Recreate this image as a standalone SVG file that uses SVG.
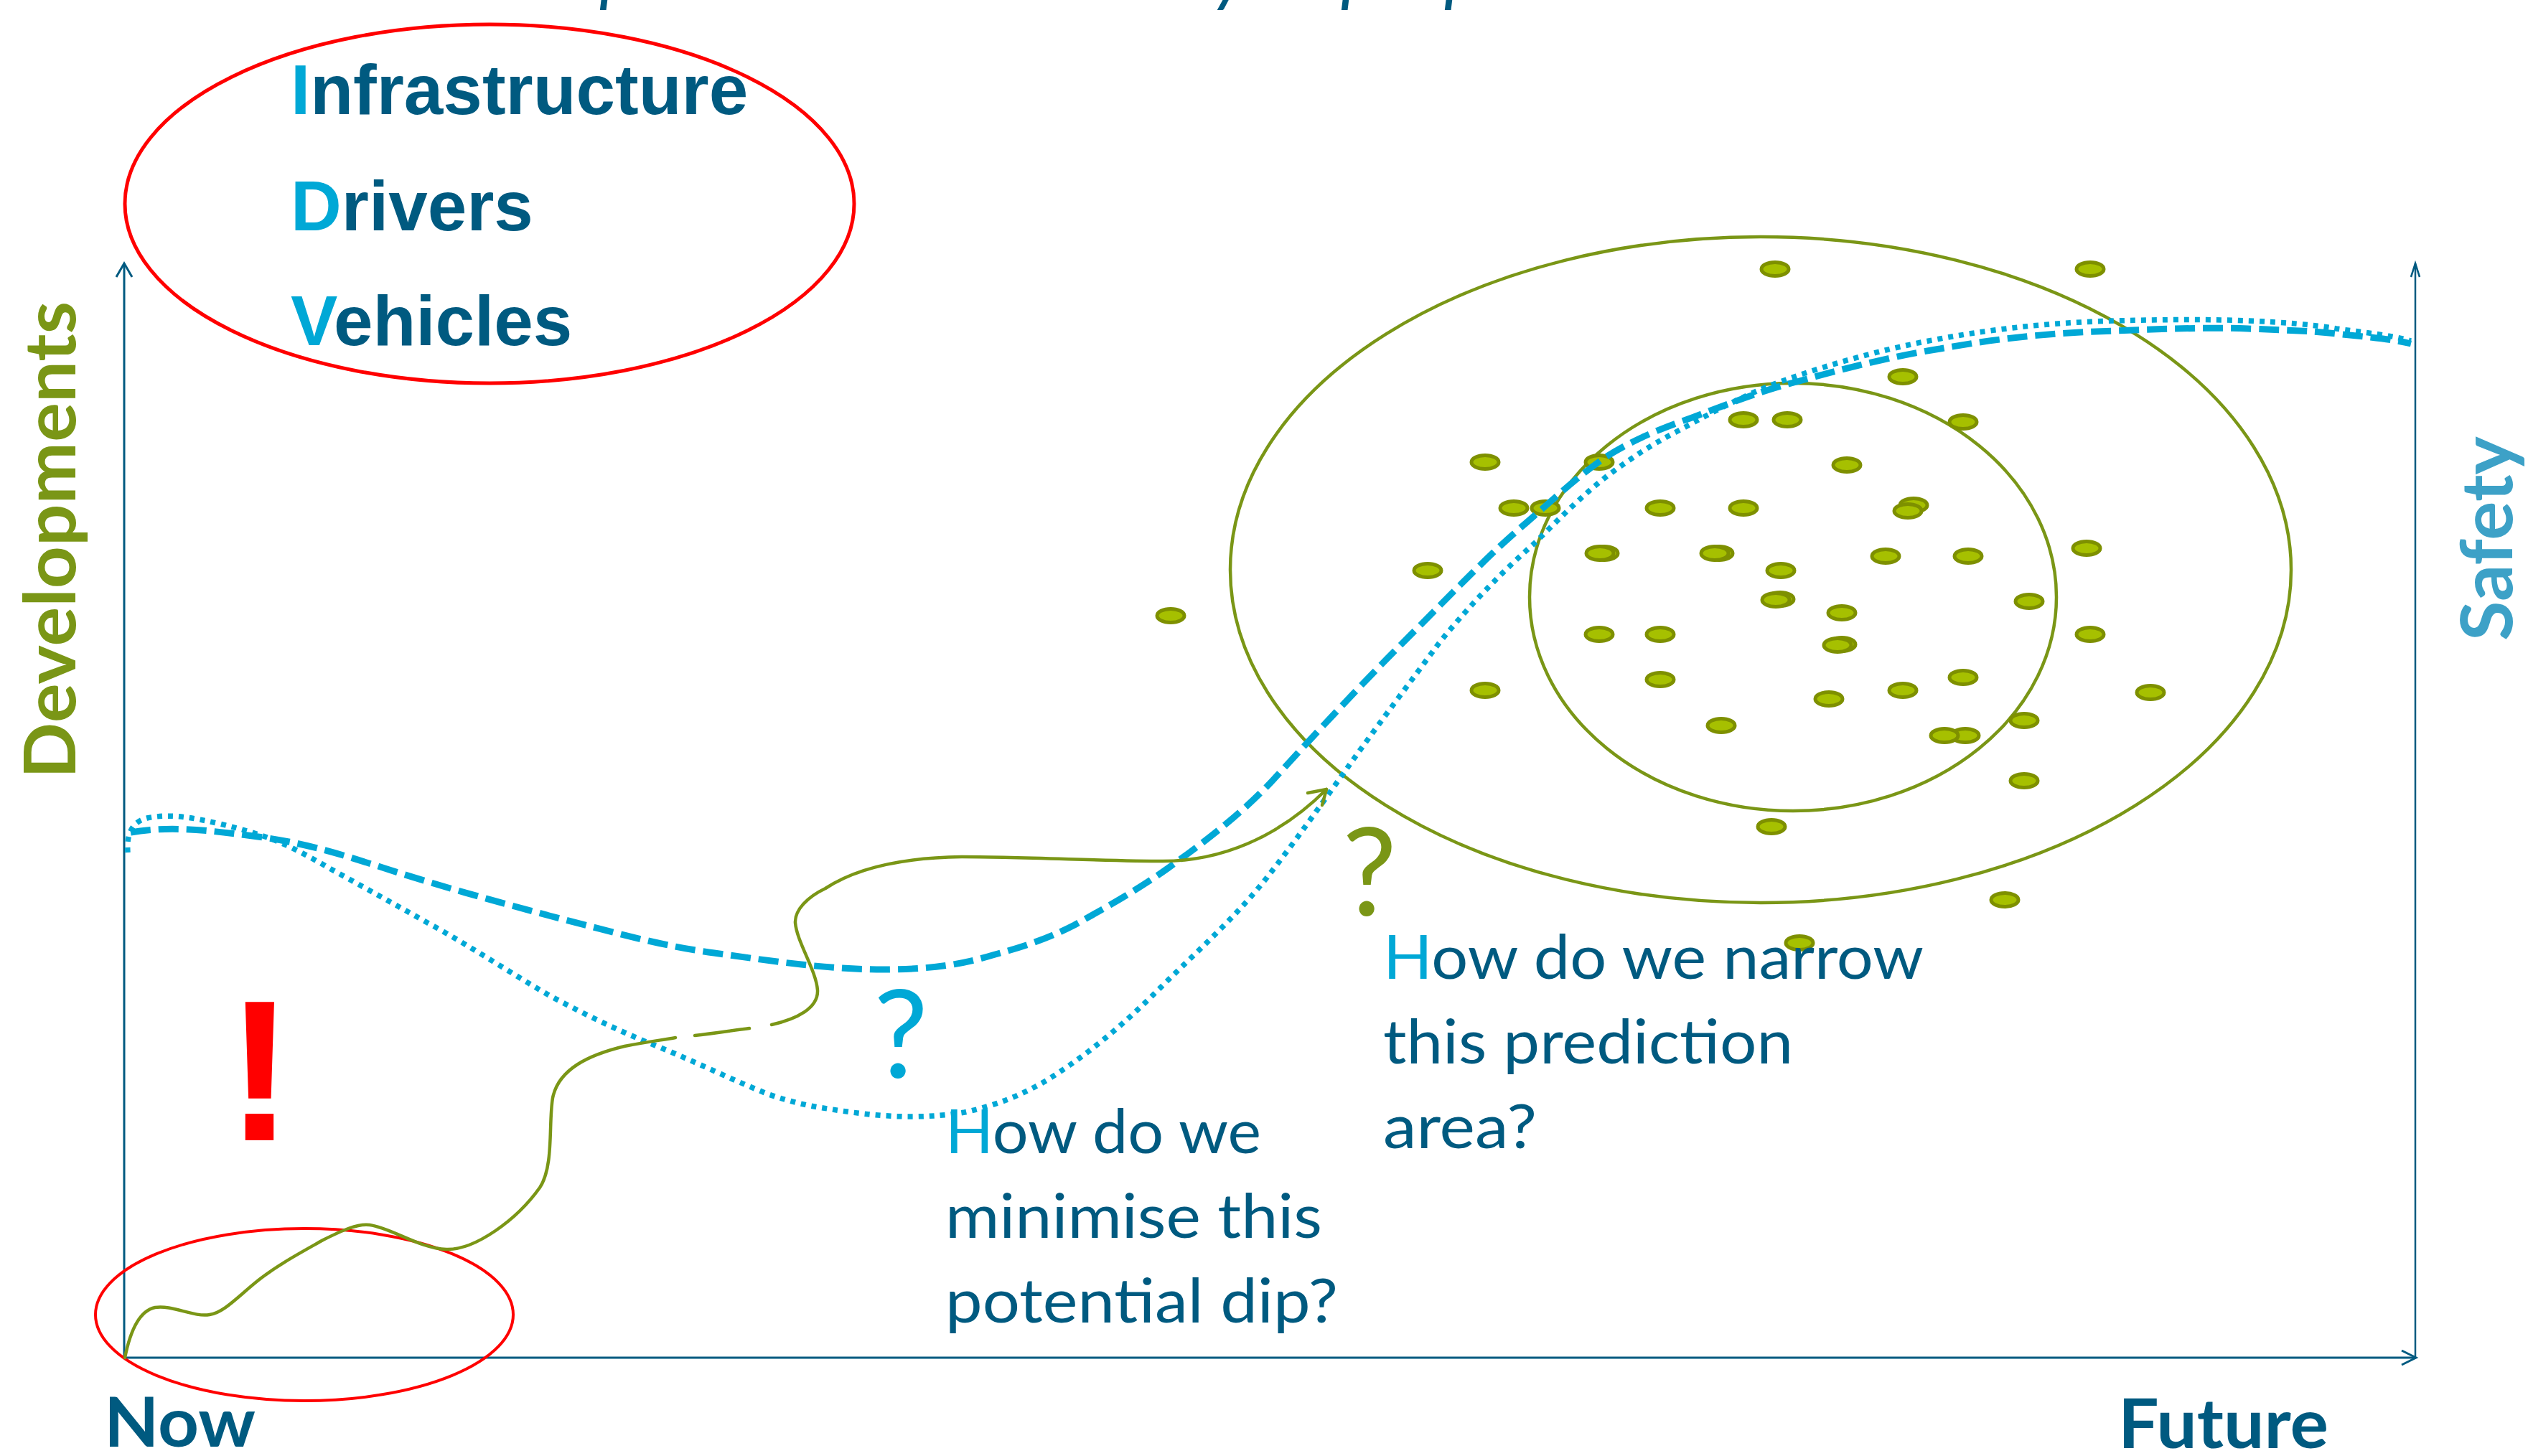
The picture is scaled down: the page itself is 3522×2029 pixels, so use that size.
<svg xmlns="http://www.w3.org/2000/svg" width="3522" height="2029" viewBox="0 0 3522 2029">
<style>
.bg{fill:#ffffff}
.axis{stroke:#005A80;stroke-width:3;fill:none}
.redring{fill:none;stroke:#FF0000;stroke-width:5}
.olivering{fill:none;stroke:#7A9616;stroke-width:4.5}
.dot{fill:#A6C000;stroke:#7E9000;stroke-width:5}
.dash{fill:none;stroke:#00A8D6;stroke-width:9;stroke-dasharray:28 11}
.dots{fill:none;stroke:#00A8D6;stroke-width:7.5;stroke-dasharray:7 8}
.olive{fill:none;stroke:#7A9616;stroke-width:4.5;stroke-linecap:round;stroke-linejoin:round}
.idv{font-family:"Liberation Sans",Arial,sans-serif;font-weight:bold;font-size:98px;fill:#005A80}
.lb{fill:#00A8D6}
.axlab{font-family:Lato,"Open Sans",sans-serif;font-weight:bold;font-size:96px;fill:#005A80}
.dev{font-family:Lato,"Open Sans",sans-serif;font-weight:bold;font-size:100px;fill:#7A9616}
.saf{font-family:Lato,"Open Sans",sans-serif;font-weight:bold;font-size:100px;fill:#3DA1C7}
.q{font-family:Lato,"Open Sans",sans-serif;font-size:86px;fill:#005A80}
.qm{font-family:Lato,"Open Sans",sans-serif;font-size:170px}
.excl{font-family:"Liberation Sans",Arial,sans-serif;font-weight:bold;font-size:280px;fill:#FF0000}
.title{font-family:Lato,"Open Sans",sans-serif;font-style:italic;font-size:100px;fill:#005A80}
</style>
<rect class="bg" x="0" y="0" width="3522" height="2029"/>

<g id="title-fragment">
<text class="title" y="-3"><tspan x="835">p</tspan><tspan x="1690">y</tspan><tspan x="1868">p</tspan><tspan x="2012">p</tspan></text>
</g>

<g id="idv-list">
<ellipse class="redring" cx="682" cy="284" rx="508" ry="250"/>
<text class="idv" x="405" y="159"><tspan class="lb">I</tspan>nfrastructure</text>
<text class="idv" x="405" y="321"><tspan class="lb">D</tspan>rivers</text>
<text class="idv" x="405" y="481"><tspan class="lb">V</tspan>ehicles</text>
</g>

<g id="axes">
<line class="axis" x1="173" y1="367" x2="173" y2="1892"/>
<polyline class="axis" points="162,386 173,367 184,386"/>
<line class="axis" x1="172" y1="1892" x2="3366" y2="1892"/>
<polyline class="axis" points="3346,1882 3366,1892 3346,1902"/>
<line class="axis" x1="3365" y1="367" x2="3365" y2="1892" style="stroke-width:2.5"/>
<polyline class="axis" points="3359,386 3365,367 3371,386" style="stroke-width:2.5"/>
</g>

<g id="axis-labels">
<text class="dev" transform="translate(105,1085) rotate(-90)" x="0" y="0" textLength="665" lengthAdjust="spacingAndGlyphs">Developments</text>
<text class="saf" transform="translate(3500,893) rotate(-90)" x="0" y="0" textLength="285" lengthAdjust="spacingAndGlyphs">Safety</text>
<text class="axlab" x="145" y="2016" textLength="211" lengthAdjust="spacingAndGlyphs">Now</text>
<text class="axlab" x="2951" y="2018" textLength="293" lengthAdjust="spacingAndGlyphs">Future</text>
</g>

<g id="now-ring">
<ellipse class="redring" cx="424" cy="1832" rx="291" ry="120" style="stroke-width:4"/>
</g>

<g id="prediction-area">
<ellipse class="olivering" cx="2453" cy="794" rx="739" ry="464"/>
<ellipse class="olivering" cx="2498" cy="832" rx="367" ry="298"/>
</g>

<g id="scatter">
<ellipse class="dot" cx="2473" cy="375" rx="19" ry="9.5"/>
<ellipse class="dot" cx="2912" cy="375" rx="19" ry="9.5"/>
<ellipse class="dot" cx="2651" cy="525" rx="19" ry="9.5"/>
<ellipse class="dot" cx="2429" cy="585" rx="19" ry="9.5"/>
<ellipse class="dot" cx="2490" cy="585" rx="19" ry="9.5"/>
<ellipse class="dot" cx="2735" cy="588" rx="19" ry="9.5"/>
<ellipse class="dot" cx="2069" cy="644" rx="19" ry="9.5"/>
<ellipse class="dot" cx="2228" cy="644" rx="19" ry="9.5"/>
<ellipse class="dot" cx="2573" cy="648" rx="19" ry="9.5"/>
<ellipse class="dot" cx="2109" cy="708" rx="19" ry="9.5"/>
<ellipse class="dot" cx="2153" cy="708" rx="19" ry="9.5"/>
<ellipse class="dot" cx="2313" cy="708" rx="19" ry="9.5"/>
<ellipse class="dot" cx="2429" cy="708" rx="19" ry="9.5"/>
<ellipse class="dot" cx="2666" cy="704" rx="19" ry="9.5"/>
<ellipse class="dot" cx="2658" cy="712" rx="19" ry="9.5"/>
<ellipse class="dot" cx="2235" cy="771" rx="19" ry="9.5"/>
<ellipse class="dot" cx="2229" cy="771" rx="19" ry="9.5"/>
<ellipse class="dot" cx="2395" cy="771" rx="19" ry="9.5"/>
<ellipse class="dot" cx="2389" cy="771" rx="19" ry="9.5"/>
<ellipse class="dot" cx="2627" cy="775" rx="19" ry="9.5"/>
<ellipse class="dot" cx="2742" cy="775" rx="19" ry="9.5"/>
<ellipse class="dot" cx="2907" cy="764" rx="19" ry="9.5"/>
<ellipse class="dot" cx="1989" cy="795" rx="19" ry="9.5"/>
<ellipse class="dot" cx="2481" cy="795" rx="19" ry="9.5"/>
<ellipse class="dot" cx="1631" cy="858" rx="19" ry="9.5"/>
<ellipse class="dot" cx="2480" cy="835" rx="19" ry="9.5"/>
<ellipse class="dot" cx="2474" cy="836" rx="19" ry="9.5"/>
<ellipse class="dot" cx="2566" cy="854" rx="19" ry="9.5"/>
<ellipse class="dot" cx="2827" cy="838" rx="19" ry="9.5"/>
<ellipse class="dot" cx="2228" cy="884" rx="19" ry="9.5"/>
<ellipse class="dot" cx="2313" cy="884" rx="19" ry="9.5"/>
<ellipse class="dot" cx="2566" cy="898" rx="19" ry="9.5"/>
<ellipse class="dot" cx="2560" cy="899" rx="19" ry="9.5"/>
<ellipse class="dot" cx="2912" cy="884" rx="19" ry="9.5"/>
<ellipse class="dot" cx="2313" cy="947" rx="19" ry="9.5"/>
<ellipse class="dot" cx="2069" cy="962" rx="19" ry="9.5"/>
<ellipse class="dot" cx="2651" cy="962" rx="19" ry="9.5"/>
<ellipse class="dot" cx="2735" cy="944" rx="19" ry="9.5"/>
<ellipse class="dot" cx="2548" cy="974" rx="19" ry="9.5"/>
<ellipse class="dot" cx="2996" cy="965" rx="19" ry="9.5"/>
<ellipse class="dot" cx="2398" cy="1011" rx="19" ry="9.5"/>
<ellipse class="dot" cx="2820" cy="1004" rx="19" ry="9.5"/>
<ellipse class="dot" cx="2738" cy="1025" rx="19" ry="9.5"/>
<ellipse class="dot" cx="2709" cy="1025" rx="19" ry="9.5"/>
<ellipse class="dot" cx="2820" cy="1088" rx="19" ry="9.5"/>
<ellipse class="dot" cx="2468" cy="1152" rx="19" ry="9.5"/>
<ellipse class="dot" cx="2793" cy="1254" rx="19" ry="9.5"/>
<ellipse class="dot" cx="2507" cy="1314" rx="19" ry="9.5"/>
</g>

<g id="connectors">
<path id="safety-dashed" class="dash" d="M 182 1160 C 240 1150 300 1158 367 1167 C 430 1176 480 1192 536 1210 C 610 1234 690 1256 765 1276 C 850 1298 920 1318 995 1328 C 1080 1340 1160 1352 1240 1351 C 1300 1350 1340 1344 1383 1331 C 1430 1318 1460 1308 1497 1289 C 1540 1265 1585 1240 1627 1210 C 1680 1172 1735 1130 1780 1080 C 1830 1025 1900 950 1968 882 C 2025 825 2075 772 2127 728 C 2165 695 2200 662 2237 637 C 2280 610 2320 595 2360 581 C 2410 562 2455 544 2507 531 C 2570 513 2640 496 2703 486 C 2790 470 2870 463 2948 461 C 3020 458 3080 456 3132 458 C 3180 460 3220 461 3255 465 C 3300 470 3330 472 3359 479"/>
<path id="safety-dotted" class="dots" d="M 178 1188 C 176 1160 185 1145 205 1140 C 240 1133 270 1140 306 1148 C 335 1155 360 1162 383 1171 C 410 1182 435 1196 459 1210 C 510 1238 560 1266 612 1295 C 665 1325 715 1358 765 1387 C 815 1414 865 1438 918 1459 C 970 1480 1020 1505 1071 1525 C 1100 1535 1125 1541 1153 1545 C 1190 1551 1230 1556 1268 1556 C 1295 1556 1320 1554 1344 1550 C 1390 1540 1425 1525 1459 1505 C 1515 1470 1565 1428 1612 1381 C 1665 1328 1720 1280 1765 1223 C 1805 1172 1845 1115 1880 1066 C 1920 1010 1965 950 2005 896 C 2050 840 2095 795 2139 756 C 2170 725 2205 690 2237 665 C 2270 640 2300 620 2335 602 C 2385 575 2430 550 2483 531 C 2550 507 2625 486 2703 472 C 2790 456 2870 449 2948 447 C 3020 445 3080 445 3132 447 C 3180 449 3220 452 3255 458 C 3300 464 3330 467 3359 475"/>
<path id="development-path" class="olive" d="M 174 1892 C 180 1862 192 1827 216 1822 C 240 1818 270 1836 292 1832 C 312 1829 330 1808 360 1784 C 388 1762 420 1745 450 1728 C 478 1714 498 1705 515 1707 C 545 1711 585 1740 622 1741 C 662 1742 720 1700 752 1655 C 772 1625 764 1565 770 1530 C 778 1490 820 1470 870 1458 C 900 1452 925 1449 941 1446 M 968 1443 C 995 1440 1020 1436 1044 1433 M 1075 1428 C 1110 1420 1140 1405 1139 1380 C 1137 1352 1110 1312 1108 1286 C 1107 1268 1125 1250 1150 1238 C 1200 1205 1270 1195 1340 1194 C 1420 1194 1550 1200 1620 1200 C 1700 1200 1780 1168 1848 1100"/>
<polyline class="olive" points="1822,1105 1848,1100 1842,1122"/>
</g>

<g id="annotations">
<text class="excl" x="362" y="1589" text-anchor="middle">!</text>
<text class="qm" x="1255" y="1502" text-anchor="middle" fill="#00A8D6">?</text>
<text class="qm" x="1908" y="1276" text-anchor="middle" fill="#7A9616">?</text>
</g>

<g id="question-dip">
<text class="q" x="1317" y="1607" textLength="440" lengthAdjust="spacingAndGlyphs"><tspan class="lb">H</tspan>ow do we</text>
<text class="q" x="1317" y="1725" textLength="525" lengthAdjust="spacingAndGlyphs">minimise this</text>
<text class="q" x="1317" y="1843" textLength="547" lengthAdjust="spacingAndGlyphs">potential dip?</text>
</g>

<g id="question-narrow">
<text class="q" x="1927" y="1364" textLength="753" lengthAdjust="spacingAndGlyphs"><tspan class="lb">H</tspan>ow do we narrow</text>
<text class="q" x="1927" y="1482" textLength="571" lengthAdjust="spacingAndGlyphs">this prediction</text>
<text class="q" x="1927" y="1600" textLength="214" lengthAdjust="spacingAndGlyphs">area?</text>
</g>
</svg>
